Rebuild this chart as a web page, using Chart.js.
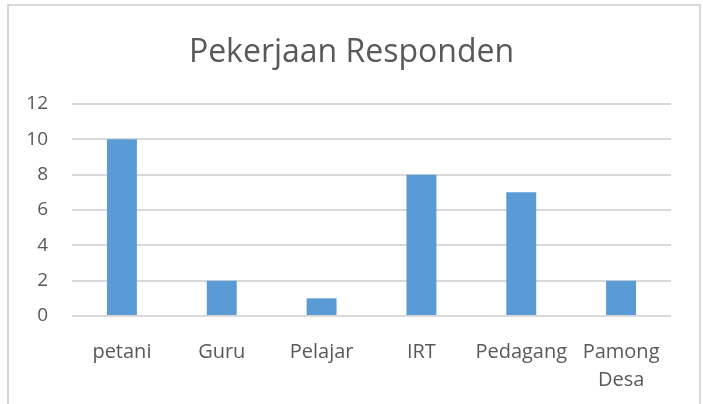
<!DOCTYPE html>
<html>
<head>
<meta charset="utf-8">
<script src="https://cdn.jsdelivr.net/npm/chart.js@4"></script>
<style>
  html, body { margin: 0; padding: 0; background: #fff; }
  body { width: 703px; height: 404px; position: relative; overflow: hidden; }
  #frame { position: absolute; left: 7px; top: 4px; width: 690px; height: 430px; border: 2px solid #d9d9d9; }
  #wrap { position: absolute; left: 0; top: 0; width: 703px; height: 404px; }
</style>
</head>
<body>
<div id="frame"></div>
<div id="wrap"><canvas id="chart" width="703" height="404"></canvas></div>
<script>
const titleText = "Pekerjaan Responden";
const categories = ["petani", "Guru", "Pelajar", "IRT", "Pedagang", ["Pamong", "Desa"]];
const jumlah = [10, 2, 1, 8, 7, 2];
const yTicks = [0, 2, 4, 6, 8, 10, 12];

const textColor = "#595959";
const gridColor = "#d9d9d9";
const barColor = "#5b9bd5";

const ctx = document.getElementById("chart").getContext("2d");

new Chart(ctx, {
  type: "bar",
  data: {
    labels: categories,
    datasets: [{
      label: titleText,
      data: jumlah,
      backgroundColor: barColor,
      barPercentage: 0.3,
      categoryPercentage: 1
    }]
  },
  options: {
    responsive: false,
    animation: false,
    layout: { padding: 0 },
    plugins: {
      legend: { display: false },
      tooltip: { enabled: false },
      title: {
        display: true,
        text: titleText,
        color: textColor,
        font: { family: "Open Sans", size: 32, weight: "normal" },
        padding: { top: 34, bottom: 31.6 }
      }
    },
    scales: {
      x: {
        grid: { display: false },
        border: { display: false },
        ticks: {
          color: textColor,
          font: { family: "Open Sans", size: 20, lineHeight: 1.4 },
          padding: 14,
          maxRotation: 0,
          autoSkip: false
        },
        afterFit: (scale) => { scale.height = 88; }
      },
      y: {
        min: 0,
        max: 12,
        afterBuildTicks: (scale) => { scale.ticks = yTicks.map(v => ({ value: v })); },
        grid: { color: gridColor, lineWidth: 2, drawTicks: false },
        border: { display: false },
        ticks: {
          color: textColor,
          font: { family: "Open Sans", size: 19 },
          padding: 24
        },
        afterFit: (scale) => { scale.width = 72; }
      },
      yRight: {
        position: "right",
        display: true,
        grid: { display: false },
        border: { display: false },
        ticks: { display: false },
        afterFit: (scale) => { scale.width = 32; }
      }
    }
  }
});
</script>
</body>
</html>
